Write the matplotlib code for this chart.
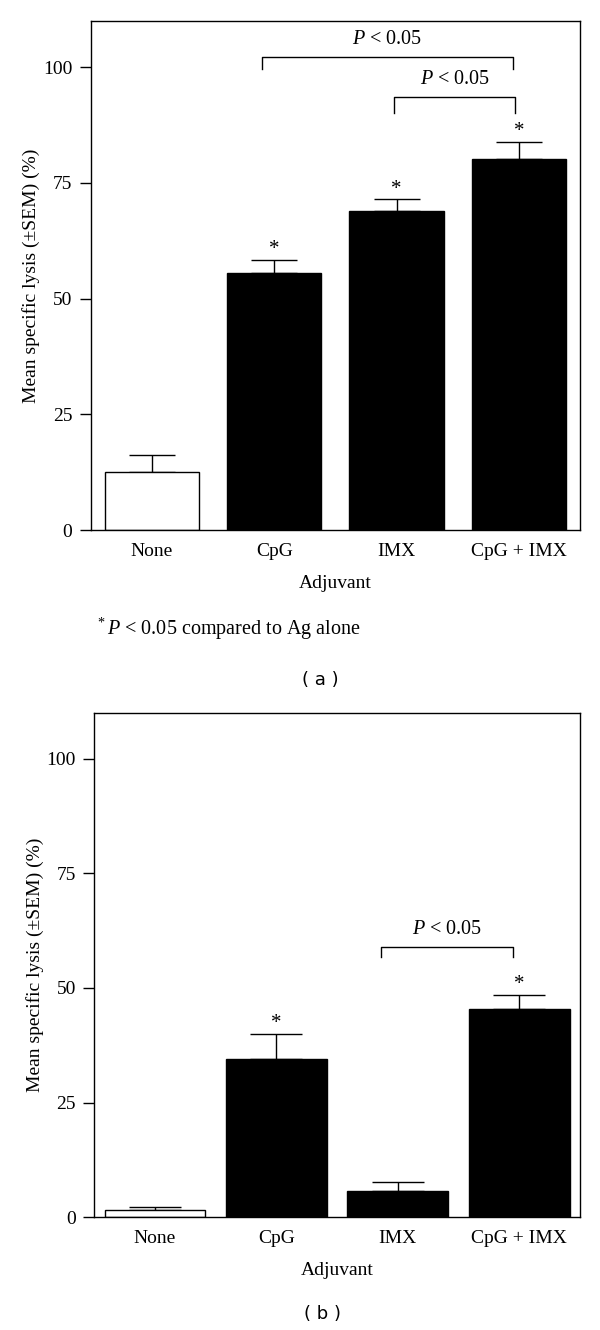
import numpy as np
import matplotlib
matplotlib.use('Agg')
import matplotlib.pyplot as plt

plt.rcParams['font.family'] = 'Liberation Serif'
plt.rcParams['mathtext.fontset'] = 'custom'
plt.rcParams['mathtext.rm'] = 'Liberation Serif'
plt.rcParams['mathtext.it'] = 'Liberation Serif:italic'

groups = ['None', 'CpG', 'IMX', 'CpG + IMX']
bar_colors = ['white', 'black', 'black', 'black']

# panel (a)
lysis_a = [12.6, 55.5, 69.0, 80.1]
sem_a = [3.6, 2.9, 2.5, 3.8]
stars_a = [False, True, True, True]
# brackets: x left, x right, line height, leg bottom
brackets_a = [(0.90, 2.95, 102.2, 99.5), (1.98, 2.97, 93.6, 90.0)]

# panel (b)
lysis_b = [1.5, 34.6, 5.7, 45.5]
sem_b = [0.75, 5.4, 2.1, 3.0]
stars_b = [False, True, False, True]
brackets_b = [(1.86, 2.95, 59.0, 56.8)]


def panel(ax, vals, sems, stars, brackets, width, cap):
    x = np.arange(len(groups))
    ax.bar(x, vals, width, color=bar_colors, edgecolor='black', linewidth=1.0, zorder=2)
    ax.errorbar(x, vals, yerr=[np.zeros(len(vals)), sems], fmt='none', ecolor='black',
                elinewidth=1.0, capsize=cap, capthick=1.0, zorder=1)
    for xi, v, s, st in zip(x, vals, sems, stars):
        if st:
            ax.annotate('*', (xi, v + s), xytext=(0, 4), textcoords='offset points',
                        ha='center', va='baseline', fontsize=15)
    for x0, x1, y, ylo in brackets:
        ax.plot([x0, x0, x1, x1], [ylo, y, y, ylo], color='black', lw=1.0)
        ax.annotate('$P$ < 0.05', ((x0 + x1) / 2, y), xytext=(0, 9), textcoords='offset points',
                    ha='center', va='baseline', fontsize=14.5)
    ax.set_xlim(-0.5, 3.5)
    ax.set_ylim(0, 110)
    ax.set_yticks([0, 25, 50, 75, 100])
    ax.set_xticks(x, groups)
    ax.tick_params(axis='y', direction='out', length=7.7, width=1.0, labelsize=14, pad=5.5)
    ax.tick_params(axis='x', length=0, labelsize=14, pad=9)
    ax.set_xlabel('Adjuvant', fontsize=14, labelpad=11)
    ax.set_ylabel('Mean specific lysis (±SEM) (%)', fontsize=14, labelpad=2)
    for sp in ax.spines.values():
        sp.set_linewidth(1.0)


fig = plt.figure(figsize=(6, 13.3), dpi=100)
ax1 = fig.add_axes([0.1512, 0.6013, 0.8155, 0.3831])
ax2 = fig.add_axes([0.157, 0.0847, 0.8097, 0.3794])

panel(ax1, lysis_a, sem_a, stars_a, brackets_a, 0.77, 16.8)
panel(ax2, lysis_b, sem_b, stars_b, brackets_b, 0.83, 18.7)

fig.text(96.7 / 600, 1 - 635 / 1330, r'$^{*}\,P$ < 0.05 compared to Ag alone', fontsize=14.5, va='baseline')
fig.text(320 / 600, 1 - 680 / 1330, '( a )', family='DejaVu Sans', fontsize=13, ha='center', va='center')
fig.text(322 / 600, 1 - 1314 / 1330, '( b )', family='DejaVu Sans', fontsize=13, ha='center', va='center')

fig.savefig('out.png', dpi=100)
